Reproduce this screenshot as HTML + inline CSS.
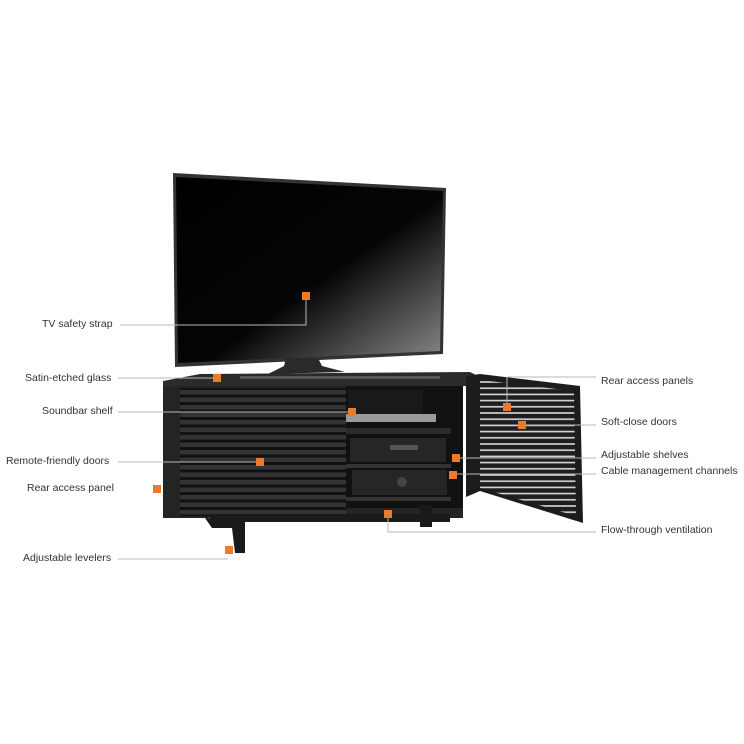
<!DOCTYPE html>
<html><head><meta charset="utf-8"><style>
html,body{margin:0;padding:0;background:#fff}
svg{display:block}
text{font-family:"Liberation Sans",sans-serif;font-size:10.5px;fill:#333}
</style></head><body>
<svg width="744" height="744" viewBox="0 0 744 744">
<defs>
<linearGradient id="scr" x1="0" y1="0" x2="1" y2="1">
<stop offset="0" stop-color="#000"/><stop offset="0.55" stop-color="#050505"/><stop offset="1" stop-color="#8a8a8a"/>
</linearGradient>
<pattern id="slat" width="10" height="7.5" patternUnits="userSpaceOnUse">
<rect width="10" height="7.5" fill="#333"/><rect y="4.5" width="10" height="3" fill="#111"/>
</pattern>
<pattern id="door" width="10" height="6.2" patternUnits="userSpaceOnUse">
<rect width="10" height="6.2" fill="#1e1e1e"/><rect y="3" width="10" height="1.6" fill="#d8d8d8"/>
</pattern>
</defs>
<!-- TV -->
<polygon points="173,173 446,188 443,354 175,367" fill="#333"/>
<polygon points="176,177 443,191 440,351 178,363" fill="url(#scr)"/>
<polygon points="286,358 318,358 322,366 345,372 268,374 284,366" fill="#2a2a2a"/>
<!-- cabinet top -->
<polygon points="163,381 200,374 470,372 480,377 470,386 163,388" fill="#2b2b2b"/>
<rect x="240" y="376" width="200" height="3" fill="#555"/>
<!-- body -->
<rect x="163" y="386" width="300" height="132" fill="#242424"/>
<rect x="180" y="388" width="166" height="128" fill="url(#slat)"/>
<!-- open area -->
<rect x="346" y="386" width="117" height="122" fill="#111"/>
<rect x="348" y="390" width="75" height="32" fill="#1a1a1a"/>
<rect x="346" y="414" width="90" height="8" fill="#9a9a9a"/>
<rect x="346" y="428" width="105" height="6" fill="#2a2a2a"/>
<rect x="350" y="438" width="96" height="24" fill="#262626"/>
<rect x="390" y="445" width="28" height="5" fill="#555"/>
<rect x="346" y="464" width="105" height="4" fill="#333"/>
<rect x="352" y="470" width="95" height="25" fill="#262626"/>
<circle cx="402" cy="482" r="5" fill="#444"/>
<rect x="346" y="497" width="105" height="4" fill="#333"/>
<!-- base/legs -->
<rect x="210" y="514" width="240" height="8" fill="#1a1a1a"/>
<polygon points="205,518 245,520 245,553 235,553 232,528 212,528" fill="#1a1a1a"/>
<rect x="420" y="505" width="12" height="22" fill="#1a1a1a"/>
<!-- door -->
<polygon points="466,376 480,374 580,386 583,523 480,491 466,497" fill="#1c1c1c"/>
<polygon points="480,380 574,391 576,516 480,488" fill="url(#door)"/>
<!-- connectors -->
<g stroke="#b8b8b8" stroke-width="1" fill="none">
<polyline points="120,325 306,325 306,300"/>
<line x1="118" y1="378" x2="214" y2="378"/>
<line x1="118" y1="412" x2="350" y2="412"/>
<line x1="118" y1="462" x2="258" y2="462"/>
<line x1="118" y1="559" x2="228" y2="559"/>
<polyline points="507,405 507,377 596,377"/>
<line x1="524" y1="425" x2="596" y2="425"/>
<line x1="458" y1="458" x2="596" y2="458"/>
<line x1="455" y1="474" x2="596" y2="474"/>
<polyline points="388,515 388,532 596,532"/>
</g>
<!-- markers -->
<g fill="#ea7a2c">
<rect x="302" y="292" width="8" height="8"/>
<rect x="213" y="374" width="8" height="8"/>
<rect x="348" y="408" width="8" height="8"/>
<rect x="256" y="458" width="8" height="8"/>
<rect x="153" y="485" width="8" height="8"/>
<rect x="225" y="546" width="8" height="8"/>
<rect x="503" y="403" width="8" height="8"/>
<rect x="518" y="421" width="8" height="8"/>
<rect x="452" y="454" width="8" height="8"/>
<rect x="449" y="471" width="8" height="8"/>
<rect x="384" y="510" width="8" height="8"/>
</g>
<!-- labels -->
<text x="42" y="327">TV safety strap</text>
<text x="25" y="381">Satin-etched glass</text>
<text x="42" y="414">Soundbar shelf</text>
<text x="6" y="464">Remote-friendly doors</text>
<text x="27" y="491">Rear access panel</text>
<text x="23" y="561">Adjustable levelers</text>
<text x="601" y="384">Rear access panels</text>
<text x="601" y="425">Soft-close doors</text>
<text x="601" y="458">Adjustable shelves</text>
<text x="601" y="474">Cable management channels</text>
<text x="601" y="533">Flow-through ventilation</text>
</svg>
</body></html>
